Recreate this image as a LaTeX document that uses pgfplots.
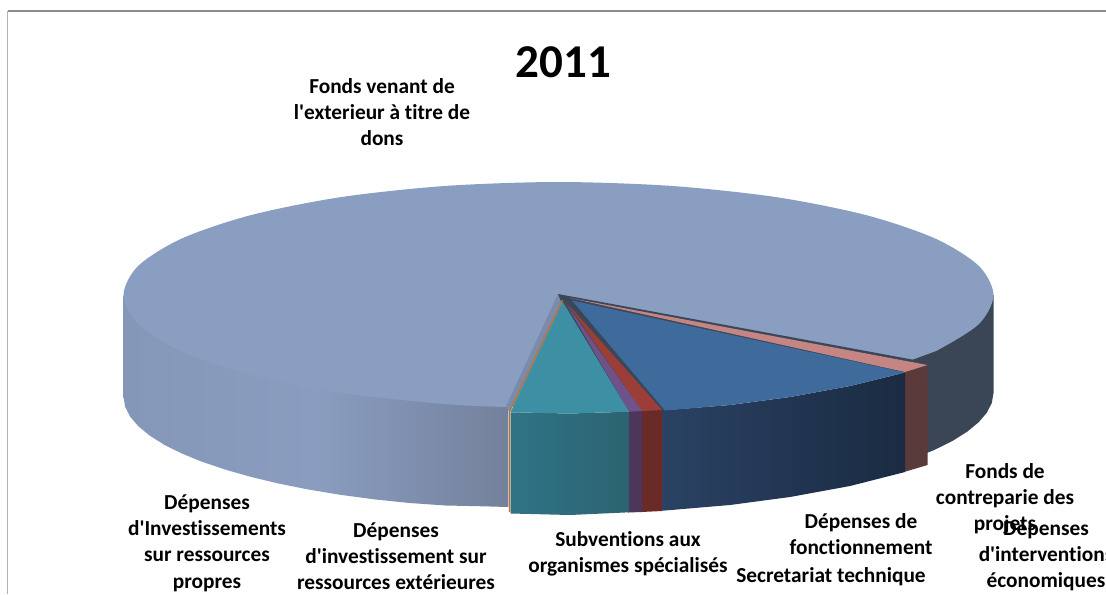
\documentclass[border=0pt]{standalone}
\usepackage{fontspec}
\setmainfont{Carlito}[Ligatures={TeXOff,NoCommon}]
\usepackage{pgfplots}
\pgfplotsset{compat=1.18}
\definecolor{topbig}{HTML}{8A9EC1}
\definecolor{wallL}{HTML}{8497B8}
\definecolor{wallM}{HTML}{8A9DC0}
\definecolor{wallR}{HTML}{74819C}
\definecolor{wallback}{HTML}{3A4556}
\definecolor{innerface}{HTML}{7B8BA9}
\definecolor{apexdark}{HTML}{3A4759}
\definecolor{pinktop}{HTML}{C58583}
\definecolor{pinkwall}{HTML}{5A3A3A}
\definecolor{bluetop}{HTML}{3F6A9C}
\definecolor{bluewallL}{HTML}{2A4263}
\definecolor{bluewallR}{HTML}{1A2B42}
\definecolor{redtop}{HTML}{9B3E38}
\definecolor{redwall}{HTML}{6A2B28}
\definecolor{purpletop}{HTML}{6F5289}
\definecolor{purplewall}{HTML}{4C3659}
\definecolor{tealtop}{HTML}{3D8FA4}
\definecolor{tealwallL}{HTML}{2F7486}
\definecolor{tealwallR}{HTML}{2C6370}
\definecolor{orangeedge}{HTML}{B5763A}
\tikzset{lbl/.style={align=center,inner sep=0pt,text=black,
    font=\fontsize{16}{19.7}\selectfont\bfseries}}
\begin{document}
\begin{tikzpicture}
\useasboundingbox (0,0) rectangle (829.5pt,445.5pt);
\clip (0,0) rectangle (829.5pt,445.5pt);
\begin{axis}[
    at={(0,0)}, anchor=south west,
    scale only axis, width=829.5pt, height=445.5pt,
    xmin=0, xmax=1106, ymin=0, ymax=594, y dir=reverse,
    hide axis, clip=false,
    every axis plot/.append style={draw=none}
]
% frame of the chart area
\addplot[draw=gray!60,line width=1pt] coordinates {(7.5,594) (7.5,11)};
\addplot[draw=gray!90,line width=0.8pt] coordinates {(7.5,11) (1106,11)};

% back wall on the right
\addplot[fill=wallback] coordinates {(912,300) (993.5,295) (993.5,393) (991.8,402.9) (986.9,412.6) (978.7,422.2)
(967.3,431.6) (952.7,440.8) (935.2,449.5) (914.8,457.8) (912,458.5)} -- cycle;
% left wall
\addplot[left color=wallL,right color=wallR,middle color=wallM] coordinates {
(123.5,295) (508.5,295) (508.5,507) (483,506.3) (445.9,505.5) (409.7,503) (374.7,499.4) (341,494.9)
(309,489.6) (278.9,483.6) (250.9,476.9) (225.3,469.6) (202.2,461.8) (181.8,453.5) (164.3,444.8)
(149.7,435.6) (138.3,426.2) (130.1,416.6) (125.2,406.9) (123.5,397)} -- cycle;

% top of the big slice
\addplot[fill=topbig,smooth] coordinates {
(912,360) (935.2,351.5) (978.7,324.2) (993.5,295) (978.7,265.8) (935.2,238.5) (866.1,215.1)
(776,197.1) (671.1,185.9) (558.5,182) (445.9,185.9) (341,197.1) (250.9,215.1) (181.8,238.5)
(138.3,265.8) (123.5,295) (138.3,324.2) (181.8,351.5) (250.9,374.9) (341,392.9) (445.9,404.1) (506,407)};

% gap below the big slice: cover the chord with white before the slices
\addplot[fill=white] coordinates {(508.5,407) (912,360) (912,459) (905,480) (665,520) (509,520) (508.5,507)} -- cycle;
\addplot[fill=wallback] coordinates {(912,360) (935,351.5) (935,449.5) (912,458.5)} -- cycle;

% inner faces at the centre
\addplot[fill=innerface] coordinates {(558,294) (506,406.5) (509.5,412) (563,301)} -- cycle;
\addplot[fill=apexdark] coordinates {(558,294) (912,359.5) (928,366) (905,373) (665,411) (629,412) (562,304)} -- cycle;

% fonds de contrepartie
\addplot[fill=pinkwall] coordinates {(904,372) (927.5,365) (927.5,465) (904,472)} -- cycle;
\addplot[fill=pinktop] coordinates {(570,298) (927.5,365) (905,372)} -- cycle;
% fonctionnement
\addplot[left color=bluewallL,right color=bluewallR] coordinates {
(661,410.5) (730,405) (790,397) (850,386) (905,372.5) (905,472) (850,486) (790,497) (730,505) (665,510.5) (661,510.5)} -- cycle;
\addplot[fill=bluetop] coordinates {(572,300.5) (905,372.5) (850,386) (790,397) (730,405) (665,410.5)} -- cycle;
% secretariat
\addplot[fill=redwall] coordinates {(641,411) (662,410) (662,511) (641,512)} -- cycle;
\addplot[fill=redtop] coordinates {(567,303) (662,410) (642,411)} -- cycle;
% subventions
\addplot[fill=purplewall] coordinates {(628,411.7) (642,411) (642,512) (628,512.5)} -- cycle;
\addplot[fill=purpletop] coordinates {(565,302) (642,411) (629,411.7)} -- cycle;
% investissement ressources exterieures
\addplot[left color=tealwallL,right color=tealwallR] coordinates {
(510.5,412.3) (570,413.5) (629,411.7) (629,512.3) (570,515) (510.5,513.5)} -- cycle;
\addplot[fill=tealtop] coordinates {(562.7,301.7) (629,411.7) (570,413.5) (510.5,412.3)} -- cycle;
% investissements ressources propres
\addplot[draw=orangeedge,line width=1pt] coordinates {(562.5,300) (509.6,411.7) (509.6,512)};

\node[font=\fontsize{35.3}{40}\selectfont\bfseries,inner sep=0pt] at (axis cs:563.5,62) {2011};
\node[lbl] at (axis cs:382,112) {Fonds venant de\\l'exterieur à titre de\\dons};
\node[lbl] at (axis cs:207,543) {Dépenses\\d'Investissements\\sur ressources\\propres};
\node[lbl] at (axis cs:396,556) {Dépenses\\d'investissement sur\\ressources extérieures};
\node[lbl] at (axis cs:628,554) {Subventions aux\\organismes spécialisés};
\node[lbl] at (axis cs:861,534) {Dépenses de\\fonctionnement};
\node[lbl] at (axis cs:831,577) {Secretariat technique};
\node[lbl] at (axis cs:1005,499) {Fonds de\\contreparie des\\projets};
\node[lbl] at (axis cs:1046,556) {Dépenses\\d'interventions\\économiques};
\end{axis}
\end{tikzpicture}
\end{document}
